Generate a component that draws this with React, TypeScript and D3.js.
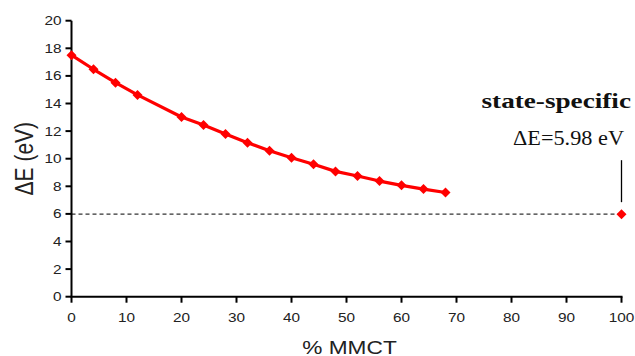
import * as d3 from "d3";

// % MMCT composition and excitation energies (eV)
const mmct = [0, 4, 8, 12, 20, 24, 28, 32, 36, 40, 44, 48, 52, 56, 60, 64, 68];
const deltaE = [17.5, 16.48, 15.51, 14.62, 13.02, 12.44, 11.79, 11.16, 10.58, 10.07, 9.6, 9.08, 8.75, 8.38, 8.07, 7.8, 7.55];
const ssX = 100;
const ssE = 5.98;
const xTicks = [0, 10, 20, 30, 40, 50, 60, 70, 80, 90, 100];
const yTicks = [0, 2, 4, 6, 8, 10, 12, 14, 16, 18, 20];

const width = 635;
const height = 356;
// glyphs in the source look horizontally stretched
const sx = 1.26;

export default function App() {
  const x = d3.scaleLinear().domain([0, 100]).range([71.5, 621.5]);
  const y = d3.scaleLinear().domain([0, 20]).range([296.7, 20.7]);

  const line = d3
    .line<number>()
    .x((_, i) => x(mmct[i]))
    .y((d) => y(d));

  const diamond = (cx: number, cy: number, r = 5) =>
    `M${cx},${cy - r}L${cx + r},${cy}L${cx},${cy + r}L${cx - r},${cy}Z`;

  const sans = "'Liberation Sans', Arial, sans-serif";
  const serif = "'Liberation Serif', 'DejaVu Serif', serif";

  return (
    <svg
      width={width}
      height={height}
      style={{ position: "absolute", left: 0, top: 0, background: "#fff" }}
    >
      {/* reference line */}
      <line
        x1={x(0)}
        x2={x(100)}
        y1={y(ssE)}
        y2={y(ssE)}
        stroke="#333"
        strokeWidth={1.3}
        strokeDasharray="4,3"
      />

      {/* axes */}
      <line x1={x(0)} x2={x(0)} y1={y(0)} y2={y(20)} stroke="#000" strokeWidth={2} />
      <line x1={x(0) - 1} x2={x(100) + 1} y1={y(0)} y2={y(0)} stroke="#000" strokeWidth={2} />
      {yTicks.map((t) => (
        <g key={"y" + t}>
          <line x1={x(0) - 6} x2={x(0)} y1={y(t)} y2={y(t)} stroke="#000" strokeWidth={2} />
          <text
            transform={`translate(${x(0) - 10},${y(t) + 4.4}) scale(${sx},1)`}
            textAnchor="end"
            fontSize={12.2}
            fontFamily={sans}
            fill="#222"
          >
            {t}
          </text>
        </g>
      ))}
      {xTicks.map((t) => (
        <g key={"x" + t}>
          <line x1={x(t)} x2={x(t)} y1={y(0)} y2={y(0) + 6} stroke="#000" strokeWidth={2} />
          <text
            transform={`translate(${x(t)},${y(0) + 25.6}) scale(${sx},1)`}
            textAnchor="middle"
            fontSize={12.2}
            fontFamily={sans}
            fill="#222"
          >
            {t}
          </text>
        </g>
      ))}

      <text
        transform={`translate(33,${(y(0) + y(20)) / 2}) scale(${sx},1) rotate(-90)`}
        textAnchor="middle"
        fontSize={21}
        fontFamily={sans}
        fill="#222"
      >
        ΔE (eV)
      </text>
      <text
        transform={`translate(${(x(0) + x(100)) / 2 + 3},353.5) scale(${sx},1)`}
        textAnchor="middle"
        fontSize={18}
        fontFamily={sans}
        fill="#222"
      >
        % MMCT
      </text>

      {/* series */}
      <path d={line(deltaE) ?? ""} fill="none" stroke="#ff0000" strokeWidth={3.2} strokeLinejoin="round" />
      {deltaE.map((d, i) => (
        <path key={i} d={diamond(x(mmct[i]), y(d))} fill="#ff0000" />
      ))}
      <path d={diamond(x(ssX), y(ssE))} fill="#ff0000" />

      {/* annotation */}
      <line x1={x(ssX)} x2={x(ssX)} y1={y(ssE) - 12} y2={y(ssE) - 54} stroke="#000" strokeWidth={1.3} />
      <text
        x={481.5}
        y={107.5}
        textLength={149.5}
        lengthAdjust="spacingAndGlyphs"
        fontSize={21.5}
        fontWeight="bold"
        fontFamily={serif}
        fill="#111"
      >
        state-specific
      </text>
      <text
        x={513}
        y={145}
        textLength={111}
        lengthAdjust="spacingAndGlyphs"
        fontSize={20}
        fontFamily={serif}
        fill="#111"
      >
        ΔE=5.98 eV
      </text>
    </svg>
  );
}
